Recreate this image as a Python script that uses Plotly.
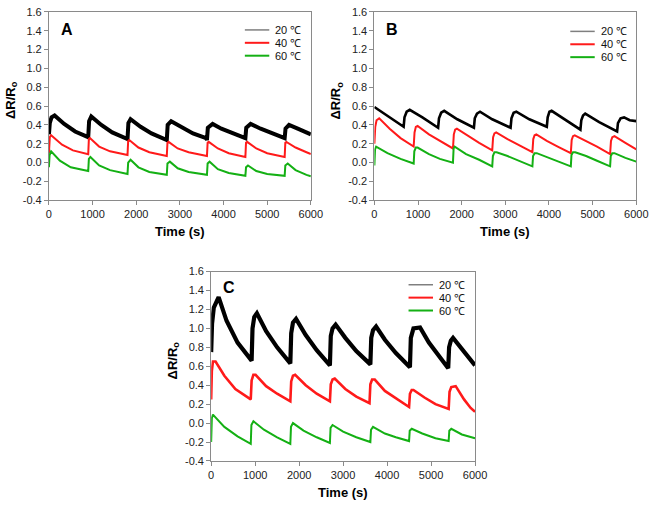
import plotly.graph_objects as go

# ---------------- data ----------------
temps = ["20 ℃", "40 ℃", "60 ℃"]
panel_letters = ["A", "B", "C"]
x_ticks = [0, 1000, 2000, 3000, 4000, 5000, 6000]
y_ticks = [-0.4, -0.2, 0.0, 0.2, 0.4, 0.6, 0.8, 1.0, 1.2, 1.4, 1.6]
y_tick_text = ["-0.4", "-0.2", "0.0", "0.2", "0.4", "0.6", "0.8", "1.0", "1.2", "1.4", "1.6"]

# Panel A
A_t20 = [0, 20, 60, 130, 350, 600, 900, 920, 970, 1200, 1450, 1800, 1820, 1870, 2100, 2350, 2700,
         2720, 2800, 3050, 3300, 3600, 3620, 3640, 3750, 3950, 4200, 4500, 4520, 4620, 4850, 5100,
         5400, 5420, 5500, 5700, 5900, 6000]
A_v20 = [0.30, 0.42, 0.48, 0.50, 0.41, 0.33, 0.27, 0.44, 0.49, 0.40, 0.32, 0.25, 0.42, 0.46, 0.38,
         0.31, 0.24, 0.40, 0.44, 0.37, 0.31, 0.26, 0.24, 0.37, 0.41, 0.36, 0.31, 0.26, 0.37, 0.41,
         0.36, 0.31, 0.26, 0.36, 0.40, 0.36, 0.32, 0.30]
A_t40 = [0, 20, 50, 300, 550, 900, 915, 940, 1150, 1400, 1800, 1815, 1840, 2050, 2300, 2700, 2715,
         2740, 2950, 3200, 3620, 3635, 3660, 3870, 4120, 4500, 4515, 4540, 4750, 5000, 5400, 5415,
         5440, 5650, 5900, 6000]
A_v40 = [0.10, 0.27, 0.29, 0.19, 0.13, 0.09, 0.25, 0.26, 0.17, 0.12, 0.08, 0.23, 0.24, 0.16, 0.11,
         0.07, 0.21, 0.22, 0.15, 0.11, 0.07, 0.21, 0.22, 0.15, 0.10, 0.06, 0.21, 0.22, 0.15, 0.10,
         0.06, 0.21, 0.22, 0.16, 0.11, 0.09]
A_t60 = [0, 15, 50, 250, 500, 900, 915, 950, 1150, 1400, 1800, 1815, 1870, 2050, 2300, 2700, 2715,
         2770, 2950, 3200, 3620, 3635, 3680, 3870, 4120, 4500, 4515, 4560, 4750, 5000, 5400, 5415,
         5470, 5650, 5900, 6000]
A_v60 = [-0.05, 0.08, 0.12, 0.02, -0.05, -0.09, 0.04, 0.06, -0.03, -0.08, -0.12, 0.00, 0.03, -0.05,
         -0.10, -0.13, -0.01, 0.01, -0.06, -0.10, -0.13, -0.01, 0.01, -0.07, -0.11, -0.14, -0.05,
         -0.03, -0.09, -0.12, -0.14, -0.03, -0.01, -0.08, -0.13, -0.145]

# Panel B
B_t20 = [0, 300, 670, 690, 740, 810, 1100, 1460, 1480, 1530, 1600, 1900, 2280, 2300, 2350, 2420,
         2700, 3120, 3140, 3190, 3250, 3550, 3950, 3970, 4010, 4060, 4350, 4720, 4740, 4780, 4830,
         5150, 5560, 5580, 5640, 5720, 5850, 6000]
B_v20 = [0.59, 0.50, 0.38, 0.48, 0.54, 0.56, 0.48, 0.37, 0.47, 0.53, 0.55, 0.46, 0.37, 0.47, 0.52,
         0.54, 0.46, 0.37, 0.47, 0.53, 0.54, 0.46, 0.38, 0.48, 0.54, 0.55, 0.46, 0.35, 0.45, 0.50,
         0.52, 0.43, 0.33, 0.42, 0.47, 0.48, 0.45, 0.44]
B_t40 = [0, 20, 50, 110, 350, 600, 900, 920, 950, 990, 1250, 1500, 1800, 1820, 1850, 1890, 2150,
         2400, 2700, 2720, 2750, 2790, 3050, 3300, 3620, 3640, 3670, 3710, 3950, 4200, 4500, 4520,
         4550, 4590, 4850, 5100, 5400, 5420, 5450, 5500, 5750, 6000]
B_v40 = [0.20, 0.38, 0.45, 0.47, 0.36, 0.26, 0.17, 0.32, 0.38, 0.39, 0.30, 0.23, 0.15, 0.30, 0.35,
         0.36, 0.28, 0.21, 0.13, 0.27, 0.31, 0.32, 0.25, 0.19, 0.11, 0.25, 0.29, 0.30, 0.23, 0.17,
         0.10, 0.24, 0.28, 0.29, 0.23, 0.17, 0.09, 0.23, 0.27, 0.28, 0.21, 0.14]
B_t60 = [0, 15, 40, 300, 600, 900, 915, 950, 990, 1250, 1500, 1800, 1815, 1840, 2100, 2400, 2700,
         2715, 2750, 2800, 3050, 3300, 3620, 3635, 3670, 3720, 3950, 4200, 4500, 4515, 4550, 4600,
         4850, 5100, 5400, 5415, 5450, 5500, 5750, 6000]
B_v60 = [-0.03, 0.14, 0.17, 0.10, 0.04, -0.01, 0.12, 0.16, 0.16, 0.09, 0.04, 0.00, 0.15, 0.17,
         0.09, 0.03, -0.04, 0.07, 0.11, 0.11, 0.07, 0.02, -0.04, 0.07, 0.10, 0.10, 0.06, 0.02,
         -0.04, 0.08, 0.11, 0.11, 0.07, 0.02, -0.04, 0.07, 0.10, 0.10, 0.05, 0.01]

# Panel C
C_t20 = [0, 20, 60, 170, 350, 600, 920, 940, 980, 1040, 1250, 1500, 1800, 1820, 1860, 1930, 2150,
         2400, 2700, 2720, 2760, 2830, 3050, 3300, 3620, 3640, 3680, 3750, 3950, 4200, 4520, 4540,
         4600, 4750, 4950, 5150, 5390, 5410, 5450, 5500, 5700, 5900, 6000]
C_v20 = [0.75, 1.05, 1.22, 1.33, 1.08, 0.85, 0.66, 1.00, 1.12, 1.16, 0.97, 0.80, 0.63, 0.95, 1.06,
         1.10, 0.93, 0.77, 0.61, 0.92, 1.00, 1.04, 0.90, 0.76, 0.62, 0.90, 0.98, 1.02, 0.88, 0.74,
         0.59, 0.90, 1.00, 1.01, 0.85, 0.72, 0.58, 0.80, 0.87, 0.90, 0.78, 0.66, 0.61]
C_t40 = [0, 15, 40, 100, 300, 550, 900, 920, 960, 1010, 1250, 1500, 1800, 1820, 1860, 1910, 2150,
         2400, 2700, 2720, 2760, 2810, 3050, 3300, 3600, 3620, 3660, 3720, 3950, 4200, 4500, 4520,
         4560, 4600, 4850, 5100, 5400, 5420, 5460, 5560, 5750, 5900, 6000]
C_v40 = [0.25, 0.55, 0.65, 0.65, 0.50, 0.36, 0.25, 0.45, 0.51, 0.51, 0.39, 0.31, 0.23, 0.44, 0.50,
         0.51, 0.40, 0.31, 0.23, 0.41, 0.46, 0.47, 0.36, 0.28, 0.21, 0.41, 0.46, 0.46, 0.34, 0.26,
         0.17, 0.31, 0.35, 0.35, 0.27, 0.20, 0.15, 0.33, 0.38, 0.39, 0.25, 0.16, 0.12]
C_t60 = [0, 15, 40, 300, 600, 900, 915, 960, 1200, 1500, 1800, 1815, 1860, 2100, 2400, 2700, 2715,
         2760, 3000, 3300, 3620, 3635, 3680, 3950, 4200, 4500, 4515, 4560, 4800, 5100, 5400, 5415,
         5460, 5700, 6000]
C_v60 = [-0.20, 0.05, 0.09, -0.04, -0.14, -0.22, -0.02, 0.02, -0.07, -0.15, -0.22, -0.04, 0.00,
         -0.08, -0.15, -0.21, -0.05, -0.02, -0.09, -0.15, -0.20, -0.07, -0.04, -0.11, -0.15, -0.19,
         -0.08, -0.06, -0.11, -0.16, -0.19, -0.08, -0.06, -0.12, -0.16]

# ---------------- styling ----------------
W, H = 661, 507
colors = ["#000000", "#ff1a1a", "#14b014"]
legend_colors = ["#7f7f7f", "#ff1a1a", "#14b014"]
FONT = "Liberation Sans, Arial, sans-serif"
AXC = "#8a8a8a"

# plot areas in pixels: (left, right, top, bottom)
boxes = [(47, 315, 6, 199), (380, 648, 6, 199), (213, 483, 272, 466)]
line_widths = [[4.0, 2.0, 2.0], [2.6, 2.0, 2.0], [4.2, 2.6, 2.0]]

panels = [
    [(A_t20, A_v20), (A_t40, A_v40), (A_t60, A_v60)],
    [(B_t20, B_v20), (B_t40, B_v40), (B_t60, B_v60)],
    [(C_t20, C_v20), (C_t40, C_v40), (C_t60, C_v60)],
]

fig = go.Figure()
annotations = []
shapes = []

for i, (box, series) in enumerate(zip(boxes, panels)):
    l, r, t, b = box
    n = "" if i == 0 else str(i + 1)
    xa, ya = "x" + n, "y" + n
    for j, (tt, vv) in enumerate(series):
        fig.add_trace(go.Scatter(x=tt, y=vv, mode="lines", xaxis=xa, yaxis=ya,
                                 line=dict(color=colors[j], width=line_widths[i][j]),
                                 showlegend=False, name=temps[j]))
    axis_common = dict(showline=True, linecolor=AXC, linewidth=1, mirror=True,
                       ticks="outside", ticklen=4, tickcolor=AXC, showgrid=False,
                       zeroline=False, tickfont=dict(family=FONT, size=11, color="#222"))
    fig.update_layout(**{
        "xaxis" + n: dict(domain=[l / W, r / W], range=[0, 6000], tickvals=x_ticks,
                          anchor=ya, **axis_common),
        "yaxis" + n: dict(domain=[1 - b / H, 1 - t / H], range=[-0.4, 1.6], tickvals=y_ticks,
                          ticktext=y_tick_text, anchor=xa, **axis_common),
    })
    # panel letter
    annotations.append(dict(x=(l + 18) / W, y=1 - (t + (18 if i < 2 else 16)) / H,
                            xref="paper", yref="paper", text="<b>%s</b>" % panel_letters[i],
                            showarrow=False, font=dict(family=FONT, size=16, color="#000"),
                            xanchor="center", yanchor="middle"))
    # axis titles
    annotations.append(dict(x=(l + r) / 2 / W, y=1 - (b + 32) / H, xref="paper", yref="paper",
                            text="<b>Time (s)</b>", showarrow=False,
                            font=dict(family=FONT, size=13, color="#000"),
                            xanchor="center", yanchor="middle"))
    annotations.append(dict(x=(l - 39) / W, y=1 - ((t + b) / 2 - 6) / H, xref="paper",
                            yref="paper", text="<b>ΔR/R<sub>o</sub></b>", textangle=-90,
                            showarrow=False, font=dict(family=FONT, size=13, color="#000"),
                            xanchor="center", yanchor="middle"))
    # legend
    lx0 = l + (r - l) * 0.748
    lx1 = lx0 + 25
    for j in range(3):
        ly = t + 18.5 + 13.2 * j + (1.5 if i == 1 else 0) + (-5 if i == 2 else 0)
        shapes.append(dict(type="line", xref="paper", yref="paper",
                           x0=lx0 / W, x1=lx1 / W, y0=1 - ly / H, y1=1 - ly / H,
                           line=dict(color=legend_colors[j], width=1.5 if j == 0 else 2)))
        annotations.append(dict(x=(lx1 + 4) / W, y=1 - ly / H, xref="paper", yref="paper",
                                text=temps[j], showarrow=False, xanchor="left",
                                yanchor="middle",
                                font=dict(family=FONT, size=11, color="#111")))

fig.update_layout(width=W, height=H, margin=dict(l=0, r=0, t=0, b=0),
                  paper_bgcolor="white", plot_bgcolor="white",
                  annotations=annotations, shapes=shapes, showlegend=False)

fig.write_html("out.html", config={"displayModeBar": False},
               post_script="document.body.style.margin='0px';document.body.style.overflow='hidden';")
